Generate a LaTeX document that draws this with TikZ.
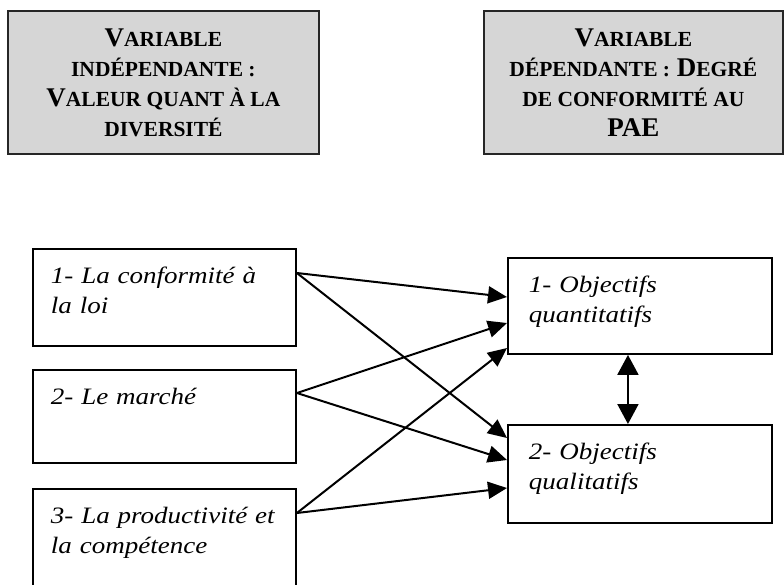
\documentclass[tikz,border=0pt]{standalone}
\usepackage{fontspec}
\setmainfont{Liberation Serif}
\newfontfamily\causefont[FakeStretch=1.15]{Liberation Serif}
\usetikzlibrary{arrows.meta}

% petites capitales faites a la main
\newcommand{\petit}[1]{{\fontsize{21.5}{30}\selectfont #1}}

\tikzset{
  varbox/.style={draw=black!85, line width=1.8pt, fill=gray!32, anchor=north west,
    minimum height=143pt, align=center, inner sep=0pt,
    font=\bfseries\fontsize{27}{30}\selectfont},
  facteur/.style={draw, line width=1.9pt, anchor=north west, text width=227pt, align=left,
    inner xsep=18pt, inner ysep=0pt, text height=35pt,
    font=\causefont\itshape\fontsize{23.5}{30}\selectfont},
  objectif/.style={facteur, text width=222pt, inner xsep=21pt},
  lien/.style={-{Triangle[length=19pt,width=17pt]}, line width=2pt}
}

\begin{document}
\begin{tikzpicture}[x=1pt, y=-1pt]
    \useasboundingbox (0,0) rectangle (784,584);

    % les deux variables
    \node[varbox, minimum width=311pt] (vi) at (7,10) {V\petit{ARIABLE}\\ \petit{INDÉPENDANTE :}\\ V\petit{ALEUR QUANT À LA}\\ \petit{DIVERSITÉ}};
    \node[varbox, minimum width=299pt] (vd) at (483,10) {V\petit{ARIABLE}\\ \petit{DÉPENDANTE :} D\petit{EGRÉ}\\ \petit{DE CONFORMITÉ AU}\\ PAE};

    % facteurs
    \node[facteur, text depth=62pt] (f1) at (32,248) {1- La conformité à\\ la loi};
    \node[facteur, text depth=58pt] (f2) at (32,369) {2- Le marché};
    \node[facteur, text depth=77pt] (f3) at (32,488) {3- La productivité et\\ la compétence};

    % objectifs
    \node[objectif, text depth=61pt] (o1) at (507,257) {1- Objectifs\\ quantitatifs};
    \node[objectif, text depth=63pt] (o2) at (507,424) {2- Objectifs\\ qualitatifs};

    \draw[lien] ([yshift=-25pt]f1.north east) -- ([yshift=-40pt]o1.north west);
    \draw[lien] ([yshift=-25pt]f1.north east) -- ([yshift=-14pt]o2.north west);
    \draw[lien] ([yshift=-24pt]f2.north east) -- ([yshift=-66pt]o1.north west);
    \draw[lien] ([yshift=-24pt]f2.north east) -- ([yshift=-36pt]o2.north west);
    \draw[lien] ([yshift=-25pt]f3.north east) -- ([yshift=-91pt]o1.north west);
    \draw[lien] ([yshift=-25pt]f3.north east) -- ([yshift=-64pt]o2.north west);

    \draw[{Triangle[length=20pt,width=21pt]}-{Triangle[length=20pt,width=21pt]}, line width=2pt] ([xshift=-12pt]o1.south) -- ([xshift=-12pt]o2.north);
\end{tikzpicture}
\end{document}
